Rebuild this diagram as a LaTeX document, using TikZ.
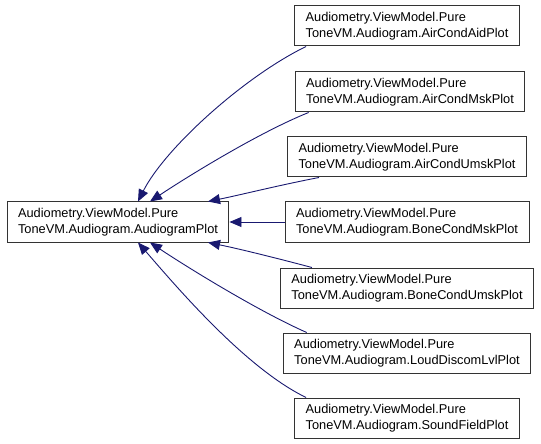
\documentclass[tikz,border=0pt]{standalone}
\usepackage{fontspec}
\setmainfont{Liberation Sans}
\usepackage{xcolor}
\usetikzlibrary{arrows.meta}
\definecolor{edgeblue}{RGB}{25,25,112}

\begin{document}
\begin{tikzpicture}[x=1bp,y=-1bp,
    cls/.style={draw=black!80,line width=1bp,fill=white,align=left,inner xsep=11bp,
      minimum height=40bp,font=\fontsize{12.8bp}{16bp}\selectfont},
    inh/.style={draw=edgeblue,line width=0.9bp,-{Triangle[length=12bp,width=10bp,fill=edgeblue]}}]
      \useasboundingbox (0,0) rectangle (541,444);
      \node[cls] (A) at (118,222) {Audiometry.ViewModel.Pure\\ToneVM.Audiogram.AudiogramPlot};
      \node[cls] (P1) at (407,26) {Audiometry.ViewModel.Pure\\ToneVM.Audiogram.AirCondAidPlot};
      \node[cls] (P2) at (410,92) {Audiometry.ViewModel.Pure\\ToneVM.Audiogram.AirCondMskPlot};
      \node[cls] (P3) at (407,157) {Audiometry.ViewModel.Pure\\ToneVM.Audiogram.AirCondUmskPlot};
      \node[cls] (P4) at (407,222) {Audiometry.ViewModel.Pure\\ToneVM.Audiogram.BoneCondMskPlot};
      \node[cls] (P5) at (407,288) {Audiometry.ViewModel.Pure\\ToneVM.Audiogram.BoneCondUmskPlot};
      \node[cls] (P6) at (407,353) {Audiometry.ViewModel.Pure\\ToneVM.Audiogram.LoudDiscomLvlPlot};
      \node[cls] (P7) at (407,418) {Audiometry.ViewModel.Pure\\ToneVM.Audiogram.SoundFieldPlot};
      % above the base class
      \draw[inh] ([xshift=12bp]P1.south west) .. controls (245,76) and (165,148) .. ([xshift=20bp]A.north);
      \draw[inh] ([xshift=14bp]P2.south west) .. controls (260,132) and (190,175) .. ([xshift=32bp]A.north);
      \draw[inh] ([xshift=32bp]P3.south west) .. controls (280,185) and (240,195) .. ([xshift=90bp]A.north);
      \draw[inh] (P4) -- (A);
      % below the base class
      \draw[inh] ([xshift=32bp]P5.north west) .. controls (280,259) and (240,249) .. ([xshift=90bp]A.south);
      \draw[inh] ([xshift=24bp]P6.north west) .. controls (260,312) and (190,269) .. ([xshift=32bp]A.south);
      \draw[inh] ([xshift=12bp]P7.north west) .. controls (245,368) and (175,285) .. ([xshift=20bp]A.south);
    \end{tikzpicture}
\end{document}
